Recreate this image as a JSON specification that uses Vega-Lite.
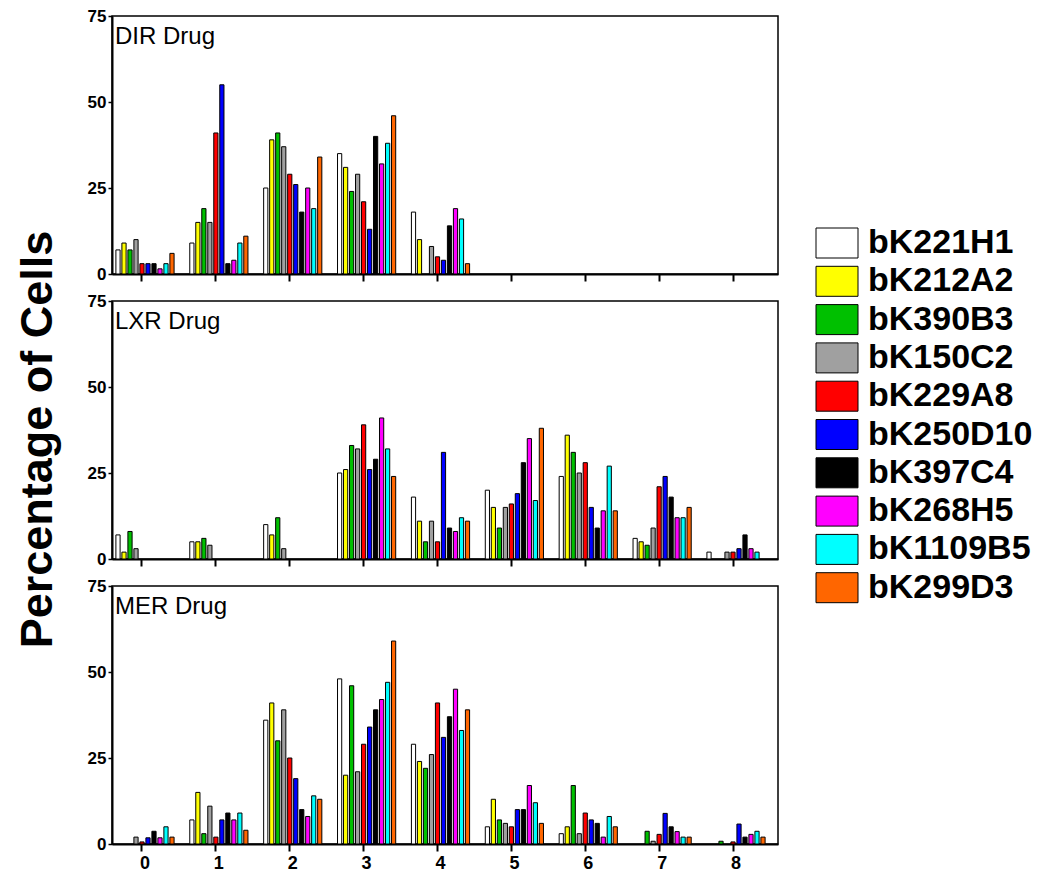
{
  "$schema": "https://vega.github.io/schema/vega-lite/v6.json",
  "background": "white",
  "padding": {"left": 16, "top": 6, "right": 5, "bottom": 5},
  "title": {"text": "Percentage of Cells", "orient": "left", "anchor": "middle", "offset": 25, "dx": 0, "fontSize": 45, "fontWeight": "bold", "font": "Liberation Sans", "color": "black"},
  "config": {
    "view": {"stroke": "black", "strokeWidth": 1.5},
    "font": "Liberation Sans",
    "axis": {"domainColor": "black", "domainWidth": 2, "tickColor": "black", "grid": false, "labelFont": "Liberation Sans", "labelFontWeight": "bold", "labelColor": "black", "titleColor": "black", "titleFont": "Liberation Sans"},
    "bar": {"stroke": "black", "strokeWidth": 1},
    "text": {"font": "Liberation Sans", "fontSize": 24, "color": "black", "align": "left", "baseline": "alphabetic"}
  },
  "datasets": {
    "dir": [
      {"b":0,"c":"bK221H1","v":7},{"b":0,"c":"bK212A2","v":9},{"b":0,"c":"bK390B3","v":7},{"b":0,"c":"bK150C2","v":10},{"b":0,"c":"bK229A8","v":3},{"b":0,"c":"bK250D10","v":3},{"b":0,"c":"bK397C4","v":3},{"b":0,"c":"bK268H5","v":1.5},{"b":0,"c":"bK1109B5","v":3},{"b":0,"c":"bK299D3","v":6},
      {"b":1,"c":"bK221H1","v":9},{"b":1,"c":"bK212A2","v":15},{"b":1,"c":"bK390B3","v":19},{"b":1,"c":"bK150C2","v":15},{"b":1,"c":"bK229A8","v":41},{"b":1,"c":"bK250D10","v":55},{"b":1,"c":"bK397C4","v":3},{"b":1,"c":"bK268H5","v":4},{"b":1,"c":"bK1109B5","v":9},{"b":1,"c":"bK299D3","v":11},
      {"b":2,"c":"bK221H1","v":25},{"b":2,"c":"bK212A2","v":39},{"b":2,"c":"bK390B3","v":41},{"b":2,"c":"bK150C2","v":37},{"b":2,"c":"bK229A8","v":29},{"b":2,"c":"bK250D10","v":26},{"b":2,"c":"bK397C4","v":18},{"b":2,"c":"bK268H5","v":25},{"b":2,"c":"bK1109B5","v":19},{"b":2,"c":"bK299D3","v":34},
      {"b":3,"c":"bK221H1","v":35},{"b":3,"c":"bK212A2","v":31},{"b":3,"c":"bK390B3","v":24},{"b":3,"c":"bK150C2","v":29},{"b":3,"c":"bK229A8","v":21},{"b":3,"c":"bK250D10","v":13},{"b":3,"c":"bK397C4","v":40},{"b":3,"c":"bK268H5","v":32},{"b":3,"c":"bK1109B5","v":38},{"b":3,"c":"bK299D3","v":46},
      {"b":4,"c":"bK221H1","v":18},{"b":4,"c":"bK212A2","v":10},{"b":4,"c":"bK150C2","v":8},{"b":4,"c":"bK229A8","v":5},{"b":4,"c":"bK250D10","v":4},{"b":4,"c":"bK397C4","v":14},{"b":4,"c":"bK268H5","v":19},{"b":4,"c":"bK1109B5","v":16},{"b":4,"c":"bK299D3","v":3}
    ],
    "lxr": [
      {"b":0,"c":"bK221H1","v":7},{"b":0,"c":"bK212A2","v":2},{"b":0,"c":"bK390B3","v":8},{"b":0,"c":"bK150C2","v":3},
      {"b":1,"c":"bK221H1","v":5},{"b":1,"c":"bK212A2","v":5},{"b":1,"c":"bK390B3","v":6},{"b":1,"c":"bK150C2","v":4},
      {"b":2,"c":"bK221H1","v":10},{"b":2,"c":"bK212A2","v":7},{"b":2,"c":"bK390B3","v":12},{"b":2,"c":"bK150C2","v":3},
      {"b":3,"c":"bK221H1","v":25},{"b":3,"c":"bK212A2","v":26},{"b":3,"c":"bK390B3","v":33},{"b":3,"c":"bK150C2","v":32},{"b":3,"c":"bK229A8","v":39},{"b":3,"c":"bK250D10","v":26},{"b":3,"c":"bK397C4","v":29},{"b":3,"c":"bK268H5","v":41},{"b":3,"c":"bK1109B5","v":32},{"b":3,"c":"bK299D3","v":24},
      {"b":4,"c":"bK221H1","v":18},{"b":4,"c":"bK212A2","v":11},{"b":4,"c":"bK390B3","v":5},{"b":4,"c":"bK150C2","v":11},{"b":4,"c":"bK229A8","v":5},{"b":4,"c":"bK250D10","v":31},{"b":4,"c":"bK397C4","v":9},{"b":4,"c":"bK268H5","v":8},{"b":4,"c":"bK1109B5","v":12},{"b":4,"c":"bK299D3","v":11},
      {"b":5,"c":"bK221H1","v":20},{"b":5,"c":"bK212A2","v":15},{"b":5,"c":"bK390B3","v":9},{"b":5,"c":"bK150C2","v":15},{"b":5,"c":"bK229A8","v":16},{"b":5,"c":"bK250D10","v":19},{"b":5,"c":"bK397C4","v":28},{"b":5,"c":"bK268H5","v":35},{"b":5,"c":"bK1109B5","v":17},{"b":5,"c":"bK299D3","v":38},
      {"b":6,"c":"bK221H1","v":24},{"b":6,"c":"bK212A2","v":36},{"b":6,"c":"bK390B3","v":31},{"b":6,"c":"bK150C2","v":25},{"b":6,"c":"bK229A8","v":28},{"b":6,"c":"bK250D10","v":15},{"b":6,"c":"bK397C4","v":9},{"b":6,"c":"bK268H5","v":14},{"b":6,"c":"bK1109B5","v":27},{"b":6,"c":"bK299D3","v":14},
      {"b":7,"c":"bK221H1","v":6},{"b":7,"c":"bK212A2","v":5},{"b":7,"c":"bK390B3","v":4},{"b":7,"c":"bK150C2","v":9},{"b":7,"c":"bK229A8","v":21},{"b":7,"c":"bK250D10","v":24},{"b":7,"c":"bK397C4","v":18},{"b":7,"c":"bK268H5","v":12},{"b":7,"c":"bK1109B5","v":12},{"b":7,"c":"bK299D3","v":15},
      {"b":8,"c":"bK221H1","v":2},{"b":8,"c":"bK150C2","v":2},{"b":8,"c":"bK229A8","v":2},{"b":8,"c":"bK250D10","v":3},{"b":8,"c":"bK397C4","v":7},{"b":8,"c":"bK268H5","v":3},{"b":8,"c":"bK1109B5","v":2}
    ],
    "mer": [
      {"b":0,"c":"bK150C2","v":2},{"b":0,"c":"bK229A8","v":0.6},{"b":0,"c":"bK250D10","v":1.8},{"b":0,"c":"bK397C4","v":3.7},{"b":0,"c":"bK268H5","v":1.8},{"b":0,"c":"bK1109B5","v":5},{"b":0,"c":"bK299D3","v":2},
      {"b":1,"c":"bK221H1","v":7},{"b":1,"c":"bK212A2","v":15},{"b":1,"c":"bK390B3","v":3},{"b":1,"c":"bK150C2","v":11},{"b":1,"c":"bK229A8","v":2},{"b":1,"c":"bK250D10","v":7},{"b":1,"c":"bK397C4","v":9},{"b":1,"c":"bK268H5","v":7},{"b":1,"c":"bK1109B5","v":9},{"b":1,"c":"bK299D3","v":4},
      {"b":2,"c":"bK221H1","v":36},{"b":2,"c":"bK212A2","v":41},{"b":2,"c":"bK390B3","v":30},{"b":2,"c":"bK150C2","v":39},{"b":2,"c":"bK229A8","v":25},{"b":2,"c":"bK250D10","v":19},{"b":2,"c":"bK397C4","v":10},{"b":2,"c":"bK268H5","v":8},{"b":2,"c":"bK1109B5","v":14},{"b":2,"c":"bK299D3","v":13},
      {"b":3,"c":"bK221H1","v":48},{"b":3,"c":"bK212A2","v":20},{"b":3,"c":"bK390B3","v":46},{"b":3,"c":"bK150C2","v":21},{"b":3,"c":"bK229A8","v":29},{"b":3,"c":"bK250D10","v":34},{"b":3,"c":"bK397C4","v":39},{"b":3,"c":"bK268H5","v":42},{"b":3,"c":"bK1109B5","v":47},{"b":3,"c":"bK299D3","v":59},
      {"b":4,"c":"bK221H1","v":29},{"b":4,"c":"bK212A2","v":24},{"b":4,"c":"bK390B3","v":22},{"b":4,"c":"bK150C2","v":26},{"b":4,"c":"bK229A8","v":41},{"b":4,"c":"bK250D10","v":31},{"b":4,"c":"bK397C4","v":37},{"b":4,"c":"bK268H5","v":45},{"b":4,"c":"bK1109B5","v":33},{"b":4,"c":"bK299D3","v":39},
      {"b":5,"c":"bK221H1","v":5},{"b":5,"c":"bK212A2","v":13},{"b":5,"c":"bK390B3","v":7},{"b":5,"c":"bK150C2","v":6},{"b":5,"c":"bK229A8","v":5},{"b":5,"c":"bK250D10","v":10},{"b":5,"c":"bK397C4","v":10},{"b":5,"c":"bK268H5","v":17},{"b":5,"c":"bK1109B5","v":12},{"b":5,"c":"bK299D3","v":6},
      {"b":6,"c":"bK221H1","v":3},{"b":6,"c":"bK212A2","v":5},{"b":6,"c":"bK390B3","v":17},{"b":6,"c":"bK150C2","v":3},{"b":6,"c":"bK229A8","v":9},{"b":6,"c":"bK250D10","v":7},{"b":6,"c":"bK397C4","v":6},{"b":6,"c":"bK268H5","v":2},{"b":6,"c":"bK1109B5","v":8},{"b":6,"c":"bK299D3","v":5},
      {"b":7,"c":"bK390B3","v":3.7},{"b":7,"c":"bK150C2","v":0.8},{"b":7,"c":"bK229A8","v":2.8},{"b":7,"c":"bK250D10","v":8.9},{"b":7,"c":"bK397C4","v":5},{"b":7,"c":"bK268H5","v":3.6},{"b":7,"c":"bK1109B5","v":2},{"b":7,"c":"bK299D3","v":2},
      {"b":8,"c":"bK390B3","v":0.8},{"b":8,"c":"bK229A8","v":0.6},{"b":8,"c":"bK250D10","v":5.8},{"b":8,"c":"bK397C4","v":2},{"b":8,"c":"bK268H5","v":2.8},{"b":8,"c":"bK1109B5","v":3.7},{"b":8,"c":"bK299D3","v":2}
    ]
  },
  "bounds": "flush",
  "spacing": 27,
  "vconcat": [
    {
      "width": 666, "height": 258,
      "layer": [
        {
          "data": {"name": "dir"},
          "mark": {"type": "bar"},
          "encoding": {
            "x": {"field": "b", "type": "ordinal", "scale": {"domain": [0,1,2,3,4,5,6,7,8], "paddingInner": 0.188, "paddingOuter": 0.1015, "align": 0.2}, "axis": {"title": null, "labels": false, "tickSize": 7, "tickWidth": 2, "bandPosition": 0.45}},
            "xOffset": {"field": "c", "type": "nominal", "scale": {"domain": ["bK221H1","bK212A2","bK390B3","bK150C2","bK229A8","bK250D10","bK397C4","bK268H5","bK1109B5","bK299D3"], "paddingInner": 0.3, "paddingOuter": 0.15}},
            "y": {"field": "v", "type": "quantitative", "scale": {"domain": [0, 75], "nice": false}, "axis": {"values": [0, 25, 50, 75], "title": null, "tickSize": 4, "tickWidth": 1.5, "labelFontSize": 17, "labelPadding": 2}},
            "color": {"field": "c", "type": "nominal", "scale": {"domain": ["bK221H1","bK212A2","bK390B3","bK150C2","bK229A8","bK250D10","bK397C4","bK268H5","bK1109B5","bK299D3"], "range": ["#FFFFFF","#FFFF00","#00C000","#A0A0A0","#FF0000","#0000FF","#000000","#FF00FF","#00FFFF","#FF6600"]},
              "legend": {"title": null, "orient": "none", "legendX": 708, "legendY": 210, "symbolType": "M-1.4,-1H1.4V1H-1.4Z", "symbolSize": 900, "symbolStrokeColor": "black", "symbolStrokeWidth": 1.5, "symbolOpacity": 1, "labelFontSize": 34, "labelFontWeight": "bold", "labelFont": "Liberation Sans", "labelColor": "black", "rowPadding": 4.3, "labelOffset": 14, "labelLimit": 300}}
          }
        },
        {
          "data": {"values": [{"label": "DIR Drug"}]},
          "mark": {"type": "text"},
          "encoding": {"text": {"field": "label"}, "x": {"datum": 0, "type": "ordinal", "bandPosition": 0}, "y": {"datum": 67, "type": "quantitative"}}
        }
      ]
    },
    {
      "width": 666, "height": 258,
      "layer": [
        {
          "data": {"name": "lxr"},
          "mark": {"type": "bar"},
          "encoding": {
            "x": {"field": "b", "type": "ordinal", "scale": {"domain": [0,1,2,3,4,5,6,7,8], "paddingInner": 0.188, "paddingOuter": 0.1015, "align": 0.2}, "axis": {"title": null, "labels": false, "tickSize": 7, "tickWidth": 2, "bandPosition": 0.45}},
            "xOffset": {"field": "c", "type": "nominal", "scale": {"domain": ["bK221H1","bK212A2","bK390B3","bK150C2","bK229A8","bK250D10","bK397C4","bK268H5","bK1109B5","bK299D3"], "paddingInner": 0.3, "paddingOuter": 0.15}},
            "y": {"field": "v", "type": "quantitative", "scale": {"domain": [0, 75], "nice": false}, "axis": {"values": [0, 25, 50, 75], "title": null, "tickSize": 4, "tickWidth": 1.5, "labelFontSize": 17, "labelPadding": 2}},
            "color": {"field": "c", "type": "nominal", "scale": {"domain": ["bK221H1","bK212A2","bK390B3","bK150C2","bK229A8","bK250D10","bK397C4","bK268H5","bK1109B5","bK299D3"], "range": ["#FFFFFF","#FFFF00","#00C000","#A0A0A0","#FF0000","#0000FF","#000000","#FF00FF","#00FFFF","#FF6600"]},
              "legend": {"title": null, "orient": "none", "legendX": 708, "legendY": 210, "symbolType": "M-1.4,-1H1.4V1H-1.4Z", "symbolSize": 900, "symbolStrokeColor": "black", "symbolStrokeWidth": 1.5, "symbolOpacity": 1, "labelFontSize": 34, "labelFontWeight": "bold", "labelFont": "Liberation Sans", "labelColor": "black", "rowPadding": 4.3, "labelOffset": 14, "labelLimit": 300}}
          }
        },
        {
          "data": {"values": [{"label": "LXR Drug"}]},
          "mark": {"type": "text"},
          "encoding": {"text": {"field": "label"}, "x": {"datum": 0, "type": "ordinal", "bandPosition": 0}, "y": {"datum": 67, "type": "quantitative"}}
        }
      ]
    },
    {
      "width": 666, "height": 258,
      "layer": [
        {
          "data": {"name": "mer"},
          "mark": {"type": "bar"},
          "encoding": {
            "x": {"field": "b", "type": "ordinal", "scale": {"domain": [0,1,2,3,4,5,6,7,8], "paddingInner": 0.188, "paddingOuter": 0.1015, "align": 0.2}, "axis": {"title": null, "labels": true, "labelAngle": 0, "labelFontSize": 18, "labelPadding": 3, "tickSize": 7, "tickWidth": 2, "bandPosition": 0.45}},
            "xOffset": {"field": "c", "type": "nominal", "scale": {"domain": ["bK221H1","bK212A2","bK390B3","bK150C2","bK229A8","bK250D10","bK397C4","bK268H5","bK1109B5","bK299D3"], "paddingInner": 0.3, "paddingOuter": 0.15}},
            "y": {"field": "v", "type": "quantitative", "scale": {"domain": [0, 75], "nice": false}, "axis": {"values": [0, 25, 50, 75], "title": null, "tickSize": 4, "tickWidth": 1.5, "labelFontSize": 17, "labelPadding": 2}},
            "color": {"field": "c", "type": "nominal", "scale": {"domain": ["bK221H1","bK212A2","bK390B3","bK150C2","bK229A8","bK250D10","bK397C4","bK268H5","bK1109B5","bK299D3"], "range": ["#FFFFFF","#FFFF00","#00C000","#A0A0A0","#FF0000","#0000FF","#000000","#FF00FF","#00FFFF","#FF6600"]},
              "legend": {"title": null, "orient": "none", "legendX": 708, "legendY": 210, "symbolType": "M-1.4,-1H1.4V1H-1.4Z", "symbolSize": 900, "symbolStrokeColor": "black", "symbolStrokeWidth": 1.5, "symbolOpacity": 1, "labelFontSize": 34, "labelFontWeight": "bold", "labelFont": "Liberation Sans", "labelColor": "black", "rowPadding": 4.3, "labelOffset": 14, "labelLimit": 300}}
          }
        },
        {
          "data": {"values": [{"label": "MER Drug"}]},
          "mark": {"type": "text"},
          "encoding": {"text": {"field": "label"}, "x": {"datum": 0, "type": "ordinal", "bandPosition": 0}, "y": {"datum": 67, "type": "quantitative"}}
        }
      ]
    }
  ]
}
